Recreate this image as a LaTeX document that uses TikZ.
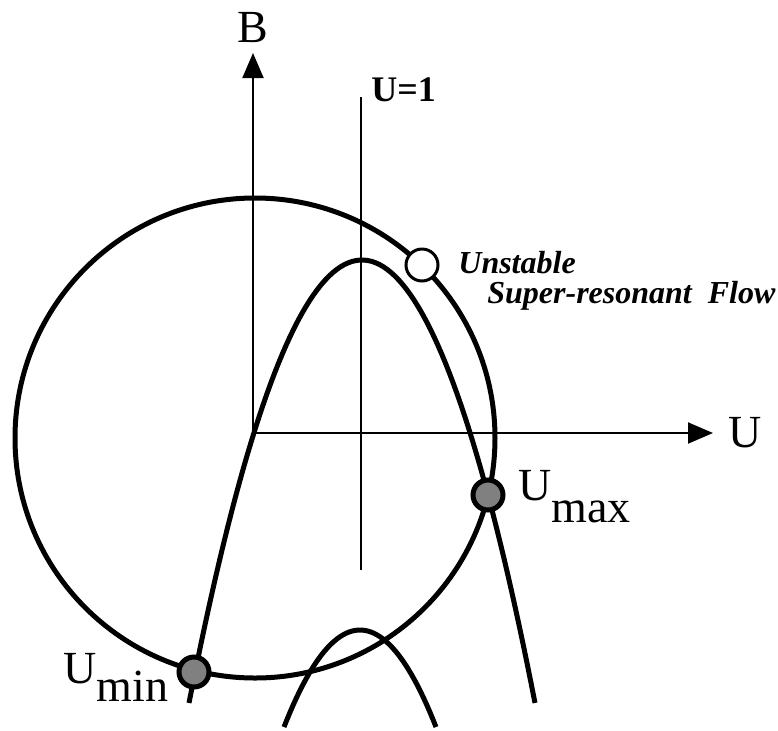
\documentclass[tikz,border=0pt]{standalone}
\usepackage{fontspec}
\setmainfont{Liberation Serif}
\usetikzlibrary{arrows.meta}
\definecolor{dotgray}{RGB}{128,128,128}
\tikzset{
  curve/.style={line width=2.5pt},
  axis/.style={line width=1pt, -{Triangle[length=12.5pt,width=10.5pt]}},
  fixpt/.style={circle, draw, line width=2.5pt, fill=dotgray, minimum size=15pt, inner sep=0pt},
  openpt/.style={circle, draw, line width=1.5pt, fill=white, minimum size=16pt, inner sep=0pt},
  biglabel/.style={font=\fontsize{23}{26}\selectfont, inner sep=0pt},
  notelabel/.style={font=\fontsize{16}{19}\selectfont\bfseries\itshape, inner sep=0pt, anchor=base west}
}

\begin{document}
\begin{tikzpicture}[x=0.5pt,y=-0.5pt]
    \useasboundingbox (0,0) rectangle (778,730);

    % Draw axes
    \coordinate (O) at (253,433);
    \coordinate (Btip) at (253,53);
    \coordinate (Utip) at (713,433);
    \draw[axis] (O) -- (Btip);
    \draw[axis] (O) -- (Utip);
    \node[biglabel, anchor=base] (Blabel) at (253,42) {B};
    \node[biglabel, anchor=base west] (Ulabel) at (728,447) {U};

    % Line U=1
    \coordinate (Uonetop) at (361,97);
    \coordinate (Uonebot) at (361,570);
    \draw[line width=1pt] (Uonetop) -- (Uonebot);
    \node[font=\fontsize{18}{21}\selectfont\bfseries, inner sep=0pt, anchor=base west] (Uone) at (371,101) {U=1};

    % Circle and the two parabolas
    \draw[curve] (255,438) circle [radius=120pt];
    \draw[curve] plot[domain=189:535, samples=90] (\x,{260+(0.12166*(\x-362))^2});
    \draw[curve] plot[domain=284:436, samples=50] (\x,{630+(0.1296*(\x-360))^2});

    % Mark points
    \node[openpt] (unstable) at (422,265) {};
    \node[fixpt] (umax) at (488,495) {};
    \node[fixpt] (umin) at (194,672) {};

    % Labels
    \node[notelabel] (lblA) at (458,273) {Unstable};
    \node[notelabel] (lblB) at (487,303) {Super-resonant\hspace{0.5em}Flow};
    \node[biglabel, anchor=base west] (lblmax) at (518,500) {U\raisebox{-0.48em}{max}};
    \node[biglabel, anchor=base west] (lblmin) at (63,683) {U\raisebox{-0.4em}{min}};
\end{tikzpicture}
\end{document}
